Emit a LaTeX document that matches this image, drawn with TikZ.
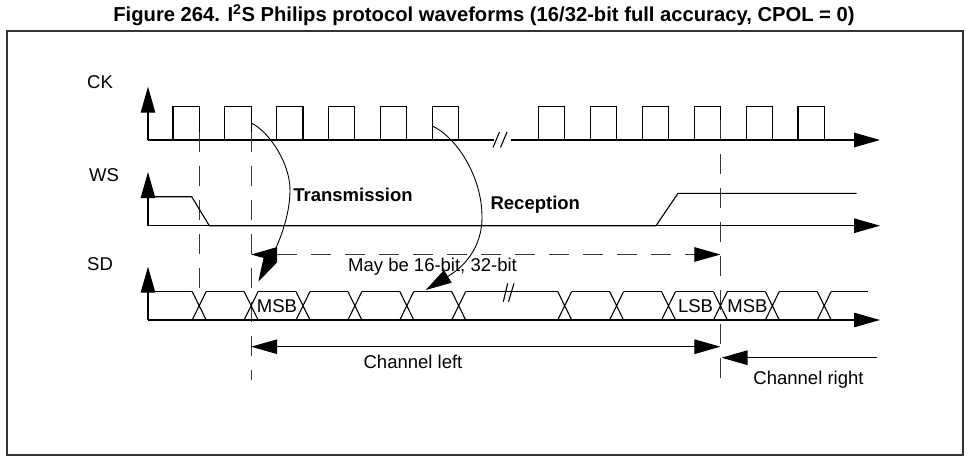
\documentclass[tikz,border=0pt]{standalone}
\usepackage{fontspec}
\setmainfont{Liberation Sans}
\usetikzlibrary{arrows.meta}
\begin{document}
\begin{tikzpicture}[x=1pt,y=-1pt,
  wave/.style={line width=1.1pt, black},
  tipA/.tip={Triangle[length=26pt,width=14.5pt,color=black]},
  axis/.style={line width=1.2pt, black, -tipA},
  guide/.style={line width=1.1pt, black!78, dash pattern=on 20pt off 14pt},
  lbl/.style={font=\fontsize{18.5}{22}\selectfont, inner sep=0pt},
  blbl/.style={font=\fontsize{18.5}{22}\selectfont\bfseries, inner sep=0pt},
  bendarrow/.style={line width=0.9pt, black, -tipA},
]
\useasboundingbox (0,0) rectangle (966,461);
\draw[line width=1.3pt, black!80] (7,31) rectangle (963,455);
\node[font=\fontsize{20.2}{24}\selectfont\bfseries, inner sep=0pt] (title) at (484,15)
  {Figure 264. I\textsuperscript{2}S Philips protocol waveforms (16/32-bit full accuracy, CPOL = 0)};

% labels
\node[lbl, anchor=west] (ck) at (87,81.7) {CK};
\node[lbl, anchor=west] (ws) at (89,175) {WS};
\node[lbl, anchor=west] (sd) at (87,264) {SD};

% CK
\draw[axis] (148,140) -- (148,86.7);
\draw[wave] (148,140) -- (494,140);
\draw[wave] (493,147.5) -- (499.5,132) (500.5,147.5) -- (507,132);
\draw[axis] (511,140) -- (880,140);
\foreach \r in {173,224.9,276.8,328.7,380.6,432.5,538.5,590.4,642.3,694.2,746.1,798}
  {\draw[wave] (\r,140) -- (\r,106.7) -- ++(26.2,0) -- ++(0,33.3);}

% guides
\draw[guide] (199.2,132) -- (199.2,290);
\draw[guide] (251.1,132) -- (251.1,380);
\draw[guide] (720.4,120) -- (720.4,380);

% WS
\draw[axis] (148,225.7) -- (148,172);
\draw[axis] (148,225.7) -- (880,225.7);
\draw[wave] (148,196.7) -- (191.7,196.7) -- (209.3,225.7) -- (656,225.7) -- (678,193.3) -- (856.7,193.3);

% SD
\draw[axis] (148,320) -- (148,266.7);
\draw[axis] (148,320) -- (880,320);
\draw[wave] (148,291.5) -- (192.2,291.5);
\foreach \c in {199.2,251.1,303,354.9,406.8,458.7,564.7,616.6,668.5,720.4,772.3,824.2}
  {\draw[wave] (\c-7,291.5) -- (\c+7,320) (\c-7,320) -- (\c+7,291.5);}
\foreach \a/\b in {199.2/251.1,251.1/303,303/354.9,354.9/406.8,406.8/458.7,458.7/564.7,564.7/616.6,616.6/668.5,668.5/720.4,720.4/772.3,772.3/824.2}
  {\draw[wave] (\a+7,291.5) -- (\b-7,291.5);}
\draw[wave] (831.2,291.5) -- (868,291.5);
\draw[wave] (503.3,301.7) -- (507.7,283.3) (508.5,301.7) -- (514,283.3);

\node[lbl] (msb1) at (277,306.5) {MSB};
\node[lbl] (lsb) at (695.5,306.5) {LSB};
\node[lbl] (msb2) at (747.5,306.5) {MSB};

% word length
\draw[guide, tipA-tipA] (251.1,254.5) -- (720.4,254.5);
\node[lbl] (maybe) at (432.5,267) {May be 16-bit, 32-bit};

% channels
\draw[line width=1.1pt, tipA-tipA] (251.1,346.7) -- (720.4,346.7);
\node[lbl] (chl) at (413,362) {Channel left};
\draw[line width=1.1pt, -tipA] (877,357.7) -- (721.5,357.7);
\node[lbl] (chr) at (808.5,380) {Channel right};

% transmission / reception
\node[blbl] (tx) at (353,195) {Transmission};
\node[blbl] (rx) at (535.3,204.3) {Reception};
\draw[bendarrow] (251.7,123.3) .. controls (268,131) and (290,162) .. (290,190)
  .. controls (290,225) and (270,260) .. (258.3,281.7);
\draw[bendarrow] (432.3,126) .. controls (455,136) and (482,175) .. (482,217)
  .. controls (482,255) and (455,272) .. (425.7,290);
\end{tikzpicture}
\end{document}
